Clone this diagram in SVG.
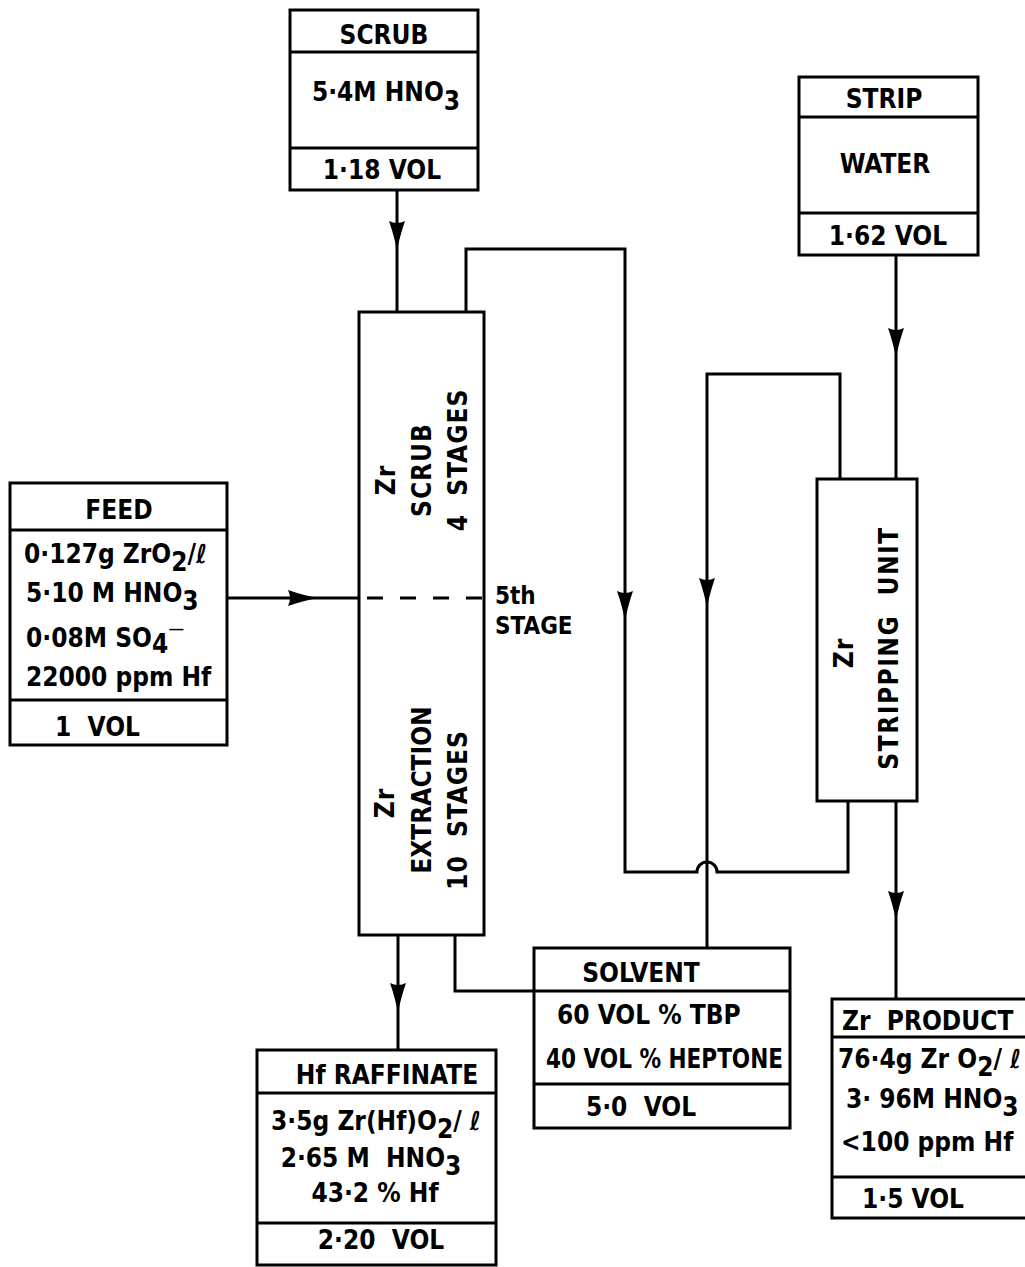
<svg xmlns="http://www.w3.org/2000/svg" xmlns:xlink="http://www.w3.org/1999/xlink" width="1025" height="1267" viewBox="0 0 1025 1267">
<style>
.box{fill:#fff;stroke:#000;stroke-width:3}
.dv{stroke:#000;stroke-width:3}
.t{font-family:'DejaVu Sans Condensed','DejaVu Sans','Liberation Sans',sans-serif;font-stretch:condensed;font-weight:bold;font-size:26px;fill:#000}
.s{font-size:24px}
.c{text-anchor:middle}
.r{letter-spacing:1px}
.wire{fill:none;stroke:#000;stroke-width:3}
.dash{stroke-dasharray:16 17}
.ah{fill:#000;stroke:none}
</style>
<defs>
<path id="ah" class="ah" d="M0,0 Q-2.5,-14 -8,-30 Q0,-26 8,-30 Q2.5,-14 0,0Z"/>
</defs>
<rect width="1025" height="1267" fill="#fff"/>

<g id="scrub">
<rect class="box" x="290" y="10" width="188" height="180"/>
<line class="dv" x1="290" y1="52" x2="478" y2="52"/>
<line class="dv" x1="290" y1="148" x2="478" y2="148"/>
<text class="t c" x="384" y="44">SCRUB</text>
<text class="t c" x="386" y="101">5·4M HNO<tspan dy="9">3</tspan></text>
<text class="t c" x="382" y="179">1·18 VOL</text>
</g>

<g id="strip">
<rect class="box" x="799" y="77" width="179" height="178"/>
<line class="dv" x1="799" y1="117" x2="978" y2="117"/>
<line class="dv" x1="799" y1="213" x2="978" y2="213"/>
<text class="t c" x="884" y="108">STRIP</text>
<text class="t c" x="885" y="173">WATER</text>
<text class="t c" x="888" y="245">1·62 VOL</text>
</g>

<g id="feed">
<rect class="box" x="10" y="483" width="217" height="262"/>
<line class="dv" x1="10" y1="530" x2="227" y2="530"/>
<line class="dv" x1="10" y1="700" x2="227" y2="700"/>
<text class="t c" x="119" y="519">FEED</text>
<text class="t" x="24" y="563">0·127g ZrO<tspan dy="8">2</tspan><tspan dy="-8">/ℓ</tspan></text>
<text class="t" x="26" y="602">5·10 M HNO<tspan dy="8">3</tspan></text>
<text class="t" x="26" y="647">0·08M  SO<tspan dy="6">4</tspan><tspan dy="-12" dx="1" font-size="16">‾‾</tspan></text>
<text class="t" x="26" y="686">22000 ppm  Hf</text>
<text class="t" x="55" y="736">1&#160;&#160;VOL</text>
</g>

<g id="column">
<rect class="box" x="359" y="312" width="125" height="623"/>
<line class="wire dash" x1="367" y1="598" x2="484" y2="598"/>
<text class="t c r" transform="translate(395,480) rotate(-90)">Zr</text>
<text class="t c r" transform="translate(431,470) rotate(-90)">SCRUB</text>
<text class="t c r" transform="translate(467,460) rotate(-90)">4&#160;&#160;STAGES</text>
<text class="t c r" transform="translate(394,803) rotate(-90)">Zr</text>
<text class="t c" transform="translate(431,790) rotate(-90)">EXTRACTION</text>
<text class="t c r" transform="translate(467,810) rotate(-90)">10&#160;&#160;STAGES</text>
</g>

<g id="stripping-unit">
<rect class="box" x="817" y="479" width="100" height="322"/>
<text class="t c r" transform="translate(853,653) rotate(-90)">Zr</text>
<text class="t c" style="letter-spacing:1.5px" transform="translate(898,648) rotate(-90)">STRIPPING&#160;&#160;UNIT</text>
</g>

<g id="solvent">
<rect class="box" x="534" y="948" width="256" height="180"/>
<line class="dv" x1="534" y1="991" x2="790" y2="991"/>
<line class="dv" x1="534" y1="1084" x2="790" y2="1084"/>
<text class="t c" x="641" y="982">SOLVENT</text>
<text class="t" x="557" y="1024">60 VOL % TBP</text>
<text class="t" x="546" y="1068" textLength="237" lengthAdjust="spacingAndGlyphs">40 VOL % HEPTONE</text>
<text class="t c" x="641" y="1116">5·0&#160;&#160;VOL</text>
</g>

<g id="hf-raffinate">
<rect class="box" x="257" y="1050" width="239" height="215"/>
<line class="dv" x1="257" y1="1093" x2="496" y2="1093"/>
<line class="dv" x1="257" y1="1223" x2="496" y2="1223"/>
<text class="t c" x="387" y="1084">Hf RAFFINATE</text>
<text class="t c" x="376" y="1130">3·5g Zr(Hf)O<tspan dy="8">2</tspan><tspan dy="-8">/ ℓ</tspan></text>
<text class="t c" x="371" y="1167">2·65 M&#160;&#160;HNO<tspan dy="8">3</tspan></text>
<text class="t c" x="375" y="1202">43·2 % Hf</text>
<text class="t c" x="381" y="1249">2·20&#160;&#160;VOL</text>
</g>

<g id="zr-product">
<rect class="box" x="832" y="999" width="200" height="219"/>
<line class="dv" x1="832" y1="1037" x2="1032" y2="1037"/>
<line class="dv" x1="832" y1="1177" x2="1032" y2="1177"/>
<text class="t" x="842" y="1030">Zr&#160;&#160;PRODUCT</text>
<text class="t" x="838" y="1068">76·4g Zr O<tspan dy="8">2</tspan><tspan dy="-8">/ ℓ</tspan></text>
<text class="t" x="846" y="1108">3· 96M HNO<tspan dy="8">3</tspan></text>
<text class="t" x="841" y="1151">&lt;100 ppm Hf</text>
<text class="t" x="862" y="1208">1·5 VOL</text>
</g>

<g id="connectors">
<path class="wire" d="M397,190 V312"/>
<path class="wire" d="M227,598 H359"/>
<path class="wire" d="M466,312 V249 H625 V872 H697 A10,10 0 0 1 717,872 H848 V801"/>
<path class="wire" d="M840,479 V374 H707 V948"/>
<path class="wire" d="M896,255 V479"/>
<path class="wire" d="M896,801 V999"/>
<path class="wire" d="M398,935 V1050"/>
<path class="wire" d="M455,935 V991 H534"/>
<use xlink:href="#ah" transform="translate(397,251)"/>
<use xlink:href="#ah" transform="translate(318,598) rotate(-90)"/>
<use xlink:href="#ah" transform="translate(625,621)"/>
<use xlink:href="#ah" transform="translate(707,608)"/>
<use xlink:href="#ah" transform="translate(896,358)"/>
<use xlink:href="#ah" transform="translate(896,921)"/>
<use xlink:href="#ah" transform="translate(398,1013)"/>
<text class="t s" x="495" y="604">5th</text>
<text class="t s" x="495" y="634">STAGE</text>
</g>
</svg>
